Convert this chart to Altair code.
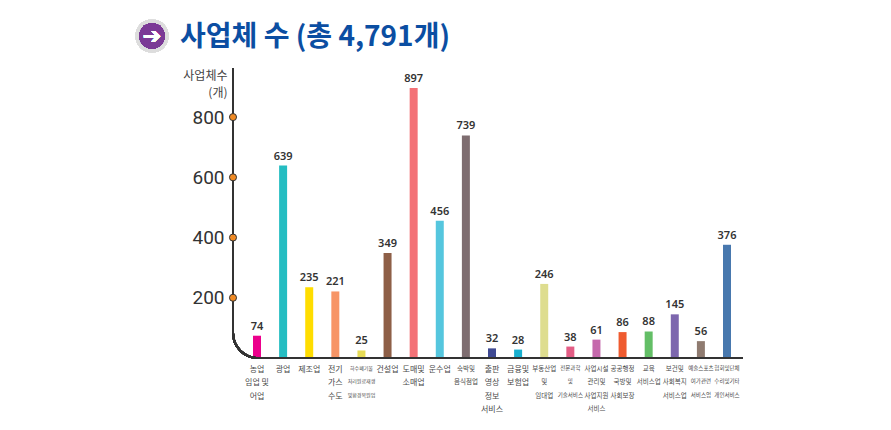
import math
import altair as alt
import pandas as pd

categories = ["농업\n임업 및\n어업", "광업", "제조업", "전기\n가스\n수도", "하수폐기물\n처리원료재생\n및환경복원업",
              "건설업", "도매및\n소매업", "운수업", "숙박및\n음식점업", "출판\n영상\n정보\n서비스",
              "금융및\n보험업", "부동산업\n및\n임대업", "전문과학\n및\n기술서비스", "사업시설\n관리및\n사업지원\n서비스",
              "공공행정\n국방및\n사회보장", "교육\n서비스업", "보건및\n사회복지\n서비스업",
              "예술스포츠\n여가관련\n서비스업", "협회및단체\n수리및기타\n개인서비스"]
values = [74, 639, 235, 221, 25, 349, 897, 456, 739, 32, 28, 246, 38, 61, 86, 88, 145, 56, 376]
colors = ["#EC008C", "#25BDC2", "#FFDD00", "#F79566", "#E6DB55", "#8E5F47", "#F37277", "#55C6DE", "#7E6D70",
          "#3F4A93", "#18AFCF", "#DEDD8F", "#E35D85", "#C569AC", "#EF5B2F", "#63BE66", "#7D67AE", "#8F7B70", "#4878AE"]
y_ticks = [200, 400, 600, 800]

KR = "Noto Sans CJK KR"
INK = "#333333"

df = pd.DataFrame({"cat": categories, "v": values, "c": colors})
ticks = pd.DataFrame({"t": y_ticks})

xscale = alt.Scale(domain=categories, range=[20, 498], paddingInner=0.694, paddingOuter=0)
yscale = alt.Scale(domain=[0, 963], range=[290, 0], nice=False)


def longest(c):
    return max(len(p.replace(" ", "")) for p in c.split("\n"))


def test_for(n):
    names = [c.split("\n")[0] for c in categories if longest(c) == n]
    return "||".join(f"indexof(datum.label,'{m}')==0" for m in names)


size_rule = {"condition": [{"test": test_for(6), "value": 5},
                           {"test": test_for(5), "value": 5.5},
                           {"test": test_for(4), "value": 6.5}],
             "value": 8}

bars = alt.Chart(df).mark_bar(clip=False).encode(
    x=alt.X("cat:N", sort=categories, scale=xscale, axis=alt.Axis(
        title=None, domain=False, ticks=False, labelAngle=0, labelPadding=7,
        labelExpr="split(datum.label,'\\n')", labelFont=KR, labelColor="#4A4A4A",
        labelFontSize=size_rule,
        labelLineHeight=13.5, labelOverlap=False, labelBound=False, labelFlush=False,
        labelLimit=0, labelBaseline="top", grid=False)),
    y=alt.Y("v:Q", scale=yscale, axis=alt.Axis(
        values=y_ticks, domain=False, ticks=False, grid=False, labelPadding=9,
        labelFont="Roboto", labelFontWeight=400, labelFontSize=19, labelColor=INK,
        title=["사업체수", "(개)"], titleAngle=0, titleFont=KR, titleFontSize=12, titleFontWeight="normal",
        titleColor="#444444", titleAlign="right", titleBaseline="top", titleX=-6, titleY=2, titleLineHeight=17)),
    color=alt.Color("c:N", scale=None),
)

labels = alt.Chart(df).mark_text(font="Noto Sans", fontSize=11, fontWeight=600, color=INK, dy=-9).encode(
    x=alt.X("cat:N", sort=categories, scale=xscale),
    y=alt.Y("v:Q", scale=yscale),
    text=alt.Text("v:Q"),
)

line_v = alt.Chart(df).mark_rule(color=INK, strokeWidth=2).encode(
    x=alt.value(0), y=alt.value(0), y2=alt.value(265))
line_h = alt.Chart(df).mark_rule(color=INK, strokeWidth=2).encode(
    x=alt.value(25), x2=alt.value(510), y=alt.value(290))
curve = alt.Chart(df).mark_arc(color=INK, radius=26, radius2=24, theta=math.pi, theta2=1.5 * math.pi).encode(
    x=alt.value(25), y=alt.value(265))

dots = alt.Chart(ticks).mark_point(filled=True, fill="#F08A24", stroke=INK, strokeWidth=1, size=50, opacity=1).encode(
    x=alt.value(0), y=alt.Y("t:Q", scale=yscale))

halo = alt.Chart(df).mark_point(filled=True, color="#DDDDDD", size=1100, opacity=1).encode(
    x=alt.value(-81), y=alt.value(-32))
disc = alt.Chart(df).mark_point(filled=True, color="#7B3A96", size=640, opacity=1).encode(
    x=alt.value(-81), y=alt.value(-32))
arrow = alt.Chart(df).mark_text(text="➔", font="DejaVu Sans", fontSize=22, fontWeight="bold", color="white").encode(
    x=alt.value(-81), y=alt.value(-32))

chart = alt.layer(bars, labels, line_v, curve, line_h, dots, halo, disc, arrow).properties(
    width=509, height=290,
    padding={"left": 225, "top": 60, "right": 133, "bottom": 60},
    autosize=alt.AutoSizeParams(type="none"),
    title=alt.TitleParams("사업체 수 (총 4,791개)", font=KR, fontSize=28, fontWeight="bold", color="#0B4EA2",
                          anchor="start", frame="group", dx=-53, dy=37),
).configure_view(stroke=None)

chart.save("out.html", embed_options={"renderer": "svg", "actions": False})
